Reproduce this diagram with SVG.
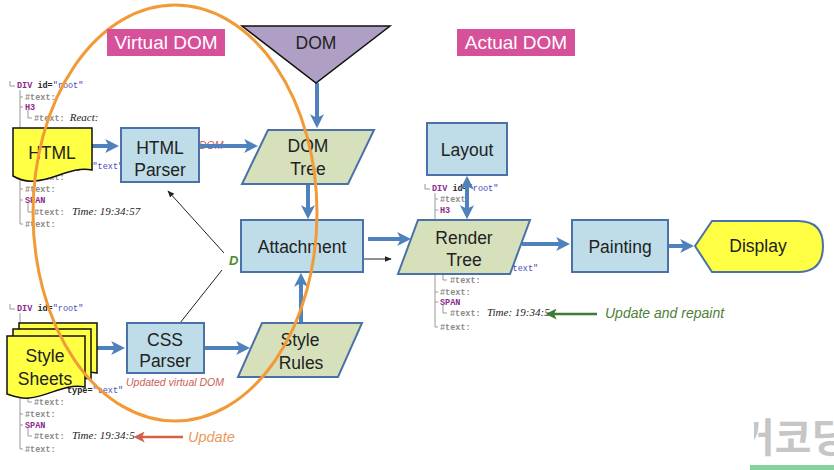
<svg xmlns="http://www.w3.org/2000/svg" width="834" height="470" viewBox="0 0 834 470">
<style>
.box{fill:#bedde8;stroke:#4a72a8;stroke-width:2}
.para{fill:#d6e1bb;stroke:#4a72a8;stroke-width:2}
.doc{fill:#ffff44;stroke:#111;stroke-width:1.5}
.lbl{font-family:"Liberation Sans",Arial,sans-serif;font-size:17.5px;fill:#222;text-anchor:middle}
.tag{fill:#d6519a}
.tagt{font-family:"Liberation Sans",Arial,sans-serif;font-size:19px;fill:#fff;text-anchor:middle}
.blue{stroke:#4f81bd;stroke-width:4;fill:none}
.thin{stroke:#222;stroke-width:1;fill:none}
.code{font-family:"Liberation Mono","Courier New",monospace;font-size:8.5px;font-weight:bold;fill:#8a8a8a}
.el{fill:#8b2a8b}
.at{fill:#222}
.str{fill:#4a4ab8;font-weight:normal}
.val{font-family:"Liberation Serif","Times New Roman",serif;font-style:italic;font-weight:normal;font-size:11px;fill:#222}
.tl{stroke:#999;stroke-width:1;fill:none}
</style>
<defs>
<marker id="ab" viewBox="0 0 10 10" refX="7" refY="5" markerWidth="14" markerHeight="14" markerUnits="userSpaceOnUse" orient="auto-start-reverse"><path d="M0,0 L10,5 L0,10 L2.5,5 Z" fill="#4f81bd"/></marker>
<marker id="ak" viewBox="0 0 10 10" refX="9" refY="5" markerWidth="7" markerHeight="7" markerUnits="userSpaceOnUse" orient="auto"><path d="M0,1 L10,5 L0,9 Z" fill="#222"/></marker>
<marker id="ag" viewBox="0 0 10 10" refX="7" refY="5" markerWidth="11" markerHeight="11" markerUnits="userSpaceOnUse" orient="auto"><path d="M0,0 L10,5 L0,10 L2.5,5 Z" fill="#3d7a32"/></marker>
<marker id="ar" viewBox="0 0 10 10" refX="7" refY="5" markerWidth="11" markerHeight="11" markerUnits="userSpaceOnUse" orient="auto"><path d="M0,0 L10,5 L0,10 L2.5,5 Z" fill="#d4604a"/></marker>
<clipPath id="wm"><rect x="754" y="400" width="80" height="62"/></clipPath>
</defs>

<!-- code trees -->
<g id="tree-top-left" class="code">
<path class="tl" d="M10,81 V86 H15 M20,90 V224 H23 M20,97 H23 M20,107 H23 M28,110 V118 H32 M28,168 V177 H32 M20,189 H23 M20,200 H23 M28,203 V212 H32"/>
<text x="17" y="88"><tspan class="el">DIV</tspan><tspan class="at"> id=</tspan><tspan class="str">"root"</tspan></text>
<text x="25" y="100">#text:</text>
<text x="25" y="110" class="el">H3</text>
<text x="34" y="121">#text: <tspan class="val">React:</tspan></text>
<text x="67" y="169"><tspan class="at">type=</tspan><tspan class="str">"text"</tspan></text>
<text x="34" y="180">#text:</text>
<text x="25" y="192">#text:</text>
<text x="25" y="203" class="el">SPAN</text>
<text x="34" y="215">#text: <tspan x="72" class="val">Time: 19:34:57</tspan></text>
<text x="25" y="227">#text:</text>
</g>
<g id="tree-bottom-left" class="code">
<path class="tl" d="M10,304 V309 H15 M20,313 V449 H23 M28,395 V402 H32 M20,414 H23 M20,425 H23 M28,428 V436 H32"/>
<text x="17" y="311"><tspan class="el">DIV</tspan><tspan class="at"> id=</tspan><tspan class="str">"root"</tspan></text>
<text x="67" y="393"><tspan class="at">type=</tspan><tspan class="str">"text"</tspan></text>
<text x="34" y="405">#text:</text>
<text x="25" y="417">#text:</text>
<text x="25" y="428" class="el">SPAN</text>
<text x="34" y="439">#text: <tspan x="72" class="val">Time: 19:34:5</tspan></text>
<text x="25" y="452">#text:</text>
</g>
<g id="tree-middle" class="code">
<path class="tl" d="M425,184 V189 H430 M435,193 V327 H438 M435,199 H438 M435,210 H438 M443,274 V280 H447 M435,292 H438 M435,302 H438 M443,305 V313 H447"/>
<text x="432" y="191"><tspan class="el">DIV</tspan><tspan class="at"> id=</tspan><tspan class="str">"root"</tspan></text>
<text x="440" y="202">#text:</text>
<text x="440" y="213" class="el">H3</text>
<text x="482" y="271"><tspan class="at">type=</tspan><tspan class="str">"text"</tspan></text>
<text x="450" y="283">#text:</text>
<text x="440" y="295">#text:</text>
<text x="440" y="305" class="el">SPAN</text>
<text x="450" y="316">#text: <tspan x="487" class="val">Time: 19:34:5</tspan></text>
<text x="440" y="330">#text:</text>
</g>

<!-- side labels -->
<text x="199" y="149" font-family="Liberation Sans,Arial,sans-serif" font-size="10.5" font-style="italic" fill="#c9605a">DOM</text>
<text x="126" y="386" font-family="Liberation Sans,Arial,sans-serif" font-size="10.5" font-style="italic" fill="#c9605a">Updated virtual DOM</text>
<text x="605" y="318" font-family="Liberation Sans,Arial,sans-serif" font-size="14" font-style="italic" fill="#4e7f3a">Update and repaint</text>
<text x="188" y="442" font-family="Liberation Sans,Arial,sans-serif" font-size="14.5" font-style="italic" fill="#e89a5c">Update</text>
<text x="229" y="265" font-family="Liberation Sans,Arial,sans-serif" font-size="13" font-style="italic" font-weight="bold" fill="#4f8a2a">D</text>

<!-- connectors -->
<g id="connectors">
<line class="blue" x1="92" y1="146" x2="115" y2="146" marker-end="url(#ab)"/>
<line class="blue" x1="199" y1="146" x2="254" y2="146" marker-end="url(#ab)"/>
<line class="blue" x1="317" y1="83" x2="317" y2="124" marker-end="url(#ab)"/>
<line class="blue" x1="308" y1="184" x2="308" y2="215" marker-end="url(#ab)"/>
<line class="blue" x1="301" y1="323" x2="301" y2="277" marker-end="url(#ab)"/>
<line class="blue" x1="368" y1="239" x2="407" y2="239" marker-end="url(#ab)"/>
<line class="blue" x1="522" y1="244" x2="566" y2="244" marker-end="url(#ab)"/>
<line class="blue" x1="668" y1="246" x2="690" y2="246" marker-end="url(#ab)"/>
<line class="blue" x1="97" y1="348" x2="121" y2="348" marker-end="url(#ab)"/>
<line class="blue" x1="204" y1="348" x2="246" y2="348" marker-end="url(#ab)"/>
<line class="blue" x1="467" y1="180" x2="467" y2="215" marker-start="url(#ab)" marker-end="url(#ab)"/>
<line class="thin" x1="363" y1="259" x2="391" y2="259" marker-end="url(#ak)"/>
<line class="thin" x1="224" y1="253" x2="168" y2="191" marker-end="url(#ak)"/>
<line class="thin" x1="222" y1="270" x2="180" y2="323"/>
<line x1="597" y1="314" x2="549" y2="314" stroke="#3d7a32" stroke-width="2.5" marker-end="url(#ag)"/>
<line x1="183" y1="437" x2="137" y2="437" stroke="#d4604a" stroke-width="2.5" marker-end="url(#ar)"/>
</g>

<!-- nodes -->
<g id="dom"><path d="M242,26 L390,26 L316,83 Z" fill="#b09fc4" stroke="#111" stroke-width="1.5"/><text class="lbl" x="316" y="49">DOM</text></g>
<g id="html"><path class="doc" d="M13,128 H92 V170 C72,166 55,180 35,181 C25,182 18,179 13,176 Z"/><text class="lbl" x="52" y="159">HTML</text></g>
<g id="html-parser"><rect class="box" x="121" y="128" width="78" height="54"/><text class="lbl" x="160" y="154">HTML</text><text class="lbl" x="160" y="176">Parser</text></g>
<g id="dom-tree"><path class="para" d="M268,130 L374,130 L348,184 L242,184 Z"/><text class="lbl" x="308" y="152">DOM</text><text class="lbl" x="308" y="175">Tree</text></g>
<g id="style-sheets">
<path class="doc" d="M19,323 H97 V373 C77,369 62,382 41,384 C32,385 25,382 19,380 Z"/>
<path class="doc" d="M13,329 H91 V379 C71,375 56,388 35,390 C26,391 19,388 13,386 Z"/>
<path class="doc" d="M7,336 H85 V387 C65,383 50,396 29,398 C20,399 13,396 7,394 Z"/>
<text class="lbl" x="45" y="362">Style</text><text class="lbl" x="45" y="385">Sheets</text>
</g>
<g id="css-parser"><rect class="box" x="127" y="323" width="77" height="50"/><text class="lbl" x="165" y="346">CSS</text><text class="lbl" x="165" y="367">Parser</text></g>
<g id="style-rules"><path class="para" d="M262,323 L362,323 L338,377 L238,377 Z"/><text class="lbl" x="300" y="346">Style</text><text class="lbl" x="301" y="369">Rules</text></g>
<g id="attachment"><rect class="box" x="241" y="220" width="122" height="52"/><text class="lbl" x="302" y="253">Attachment</text></g>
<g id="layout"><rect class="box" x="427" y="123" width="80" height="52"/><text class="lbl" x="467" y="156">Layout</text></g>
<g id="render-tree"><path class="para" d="M418,220 L530,220 L510,274 L398,274 Z"/><text class="lbl" x="464" y="244">Render</text><text class="lbl" x="464" y="266">Tree</text></g>
<g id="painting"><rect class="box" x="572" y="220" width="96" height="52"/><text class="lbl" x="620" y="253">Painting</text></g>
<g id="display"><path d="M695,246 L712,221 L798,221 Q823,221 823,246 Q823,272 798,272 L712,272 Z" fill="#ffff44" stroke="#4a72a8" stroke-width="2"/><text class="lbl" x="758" y="252">Display</text></g>

<!-- orange ellipse over the nodes -->
<ellipse cx="175" cy="213" rx="142" ry="208" fill="none" stroke="#f29a38" stroke-width="3"/>

<!-- header tags -->
<g id="virtual-dom-label"><rect class="tag" x="107" y="29" width="118" height="27"/><text class="tagt" x="166" y="49">Virtual DOM</text></g>
<g id="actual-dom-label"><rect class="tag" x="457" y="29" width="118" height="27"/><text class="tagt" x="516" y="49">Actual DOM</text></g>

<!-- watermark -->
<text x="738" y="452" clip-path="url(#wm)" font-family="Noto Sans CJK KR,sans-serif" font-size="40" font-weight="bold" fill="#c6c6c6">커코딩</text>
<rect x="750" y="465" width="84" height="5" fill="#86d29c"/>
</svg>
